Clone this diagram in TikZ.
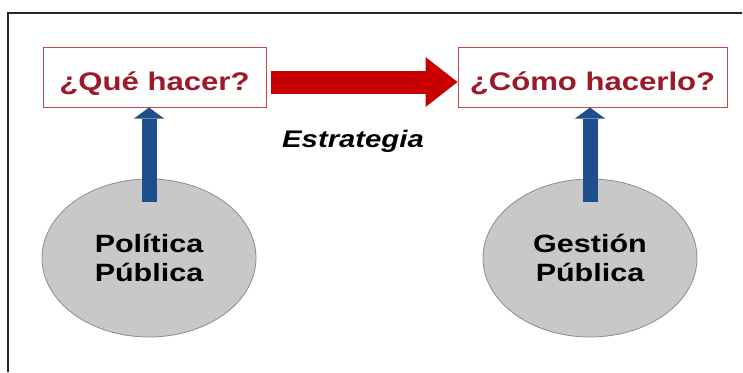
\documentclass[tikz,border=0pt]{standalone}
\usepackage{fontspec}
\setmainfont[FakeStretch=1.22]{Liberation Sans}
\usetikzlibrary{arrows.meta,shapes.geometric}
\definecolor{boxred}{RGB}{192,70,70}
\definecolor{txtred}{RGB}{155,25,40}
\definecolor{arrred}{RGB}{200,0,0}
\definecolor{arrblue}{RGB}{31,78,140}
\definecolor{circfill}{RGB}{200,200,200}
\definecolor{circline}{RGB}{140,140,140}
\begin{document}
\begin{tikzpicture}[x=1pt,y=-1pt,
  qbox/.style={draw=boxred, line width=1pt, fill=white, inner sep=0pt,
    minimum height=60pt, text height=43pt, text depth=17pt,
    font=\fontsize{25.5}{30}\selectfont\bfseries, text=txtred},
  bubble/.style={ellipse, draw=circline, line width=0.8pt, fill=circfill,
    minimum width=214pt, minimum height=158pt, inner sep=0pt, align=center,
    font=\fontsize{25}{29}\selectfont\bfseries},
  uparrow/.style={draw=arrblue, line width=15pt,
    -{Triangle[width=30pt,length=11pt,line width=0pt]}},
  bigarrow/.style={draw=arrred, line width=23pt,
    -{Triangle[width=50pt,length=32pt,line width=0pt]}}]
\useasboundingbox (0,0) rectangle (743,372);
\draw[line width=1.5pt, black!85] (8,372) -- (8,13) -- (742,13);
\node[qbox, minimum width=223pt] (q1) at (154.5,77) {¿Qué hacer?};
\node[qbox, minimum width=269pt] (q2) at (592.5,77) {¿Cómo hacerlo?};
\node[bubble] (c1) at (149,258) {Política\\Pública};
\node[bubble] (c2) at (590,258) {Gestión\\Pública};
\node[font=\fontsize{24}{28}\selectfont\bfseries\itshape, anchor=base] (est) at (353,147) {Estrategia};
\draw[uparrow] ([yshift=-23pt]c1.north) -- (c1.north |- q1.south);
\draw[uparrow] ([yshift=-23pt]c2.north) -- (c2.north |- q2.south);
\draw[bigarrow] ([xshift=4pt,yshift=-5pt]q1.east) -- ([yshift=-5pt]q2.west);
\end{tikzpicture}
\end{document}
